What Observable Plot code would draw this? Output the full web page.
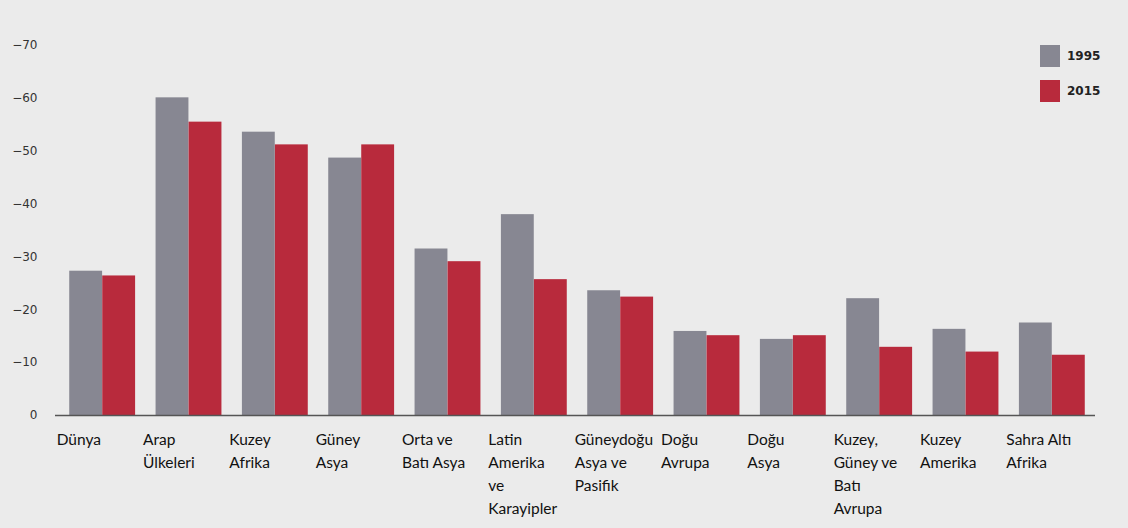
<!DOCTYPE html>
<html>
<head>
<meta charset="utf-8">
<script src="https://cdn.jsdelivr.net/npm/d3@7"></script>
<script src="https://cdn.jsdelivr.net/npm/@observablehq/plot@0.6"></script>
<style>
  html, body { margin: 0; padding: 0; background: #ebebeb; }
  #wrap { position: relative; width: 1128px; height: 528px; overflow: hidden; }
  .legend { position: absolute; left: 1040px; top: 45px; font-family: "DejaVu Sans", Verdana, sans-serif; font-weight: bold; font-size: 12px; color: #222; }
  .legend .item { display: flex; align-items: center; height: 22px; margin-bottom: 13px; }
  .legend .sw { width: 20px; height: 22px; margin-right: 7px; }
</style>
</head>
<body>
<div id="wrap"></div>
<script>
const categories = ["Dünya", "Arap Ülkeleri", "Kuzey Afrika", "Güney Asya", "Orta ve Batı Asya", "Latin Amerika ve Karayipler", "Güneydoğu Asya ve Pasifik", "Doğu Avrupa", "Doğu Asya", "Kuzey, Güney ve Batı Avrupa", "Kuzey Amerika", "Sahra Altı Afrika"];
const tickLabels = ["Dünya", "Arap\nÜlkeleri", "Kuzey\nAfrika", "Güney\nAsya", "Orta ve\nBatı Asya", "Latin\nAmerika\nve\nKarayipler", "Güneydoğu\nAsya ve\nPasifik", "Doğu\nAvrupa", "Doğu\nAsya", "Kuzey,\nGüney ve\nBatı\nAvrupa", "Kuzey\nAmerika", "Sahra Altı\nAfrika"];
const values1995 = [-27.3, -60.1, -53.6, -48.7, -31.5, -38.0, -23.6, -15.9, -14.4, -22.1, -16.3, -17.5];
const values2015 = [-26.4, -55.5, -51.2, -51.2, -29.1, -25.7, -22.4, -15.1, -15.1, -12.9, -12.0, -11.4];
const yTicks = [0, -10, -20, -30, -40, -50, -60, -70];
const seriesNames = ["1995", "2015"];
const seriesColors = ["#878792", "#b82a3c"];

const rows1995 = categories.map((c, i) => ({category: c, value: values1995[i]}));
const rows2015 = categories.map((c, i) => ({category: c, value: values2015[i]}));
const labelRows = categories.map((c, i) => ({category: c, label: tickLabels[i]}));

const half = 33;
const chart = Plot.plot({
  width: 1128,
  height: 528,
  marginLeft: 59,
  marginRight: 33,
  marginTop: 45,
  marginBottom: 113,
  style: {background: "#ebebeb", fontFamily: "'DejaVu Sans', Verdana, sans-serif"},
  x: {domain: categories, paddingInner: 0.237, paddingOuter: 0.1185, round: false, axis: null},
  y: {domain: [0, -70], nice: false, axis: null},
  marks: [
    Plot.barY(rows1995, {x: "category", y: "value", fill: seriesColors[0], insetRight: half}),
    Plot.barY(rows2015, {x: "category", y: "value", fill: seriesColors[1], insetLeft: half}),
    Plot.ruleY([0], {stroke: "#555", strokeWidth: 1.5, insetLeft: -4}),
    Plot.axisY({ticks: yTicks, tickSize: 0, tickPadding: 22, fontSize: 12, fill: "#333", label: null}),
    Plot.text(labelRows, {x: "category", y: () => 0, text: "label", textAnchor: "start", dx: -46, dy: 13, lineAnchor: "top", lineHeight: 1.48, fontSize: 15.5, fontFamily: "Lato, 'Open Sans', sans-serif", fill: "#111"})
  ]
});
document.getElementById("wrap").appendChild(chart);

const legend = document.createElement("div");
legend.className = "legend";
seriesNames.forEach((n, i) => {
  const item = document.createElement("div");
  item.className = "item";
  const sw = document.createElement("div");
  sw.className = "sw";
  sw.style.background = seriesColors[i];
  const t = document.createElement("span");
  t.textContent = n;
  item.appendChild(sw); item.appendChild(t);
  legend.appendChild(item);
});
document.getElementById("wrap").appendChild(legend);
</script>
</body>
</html>
